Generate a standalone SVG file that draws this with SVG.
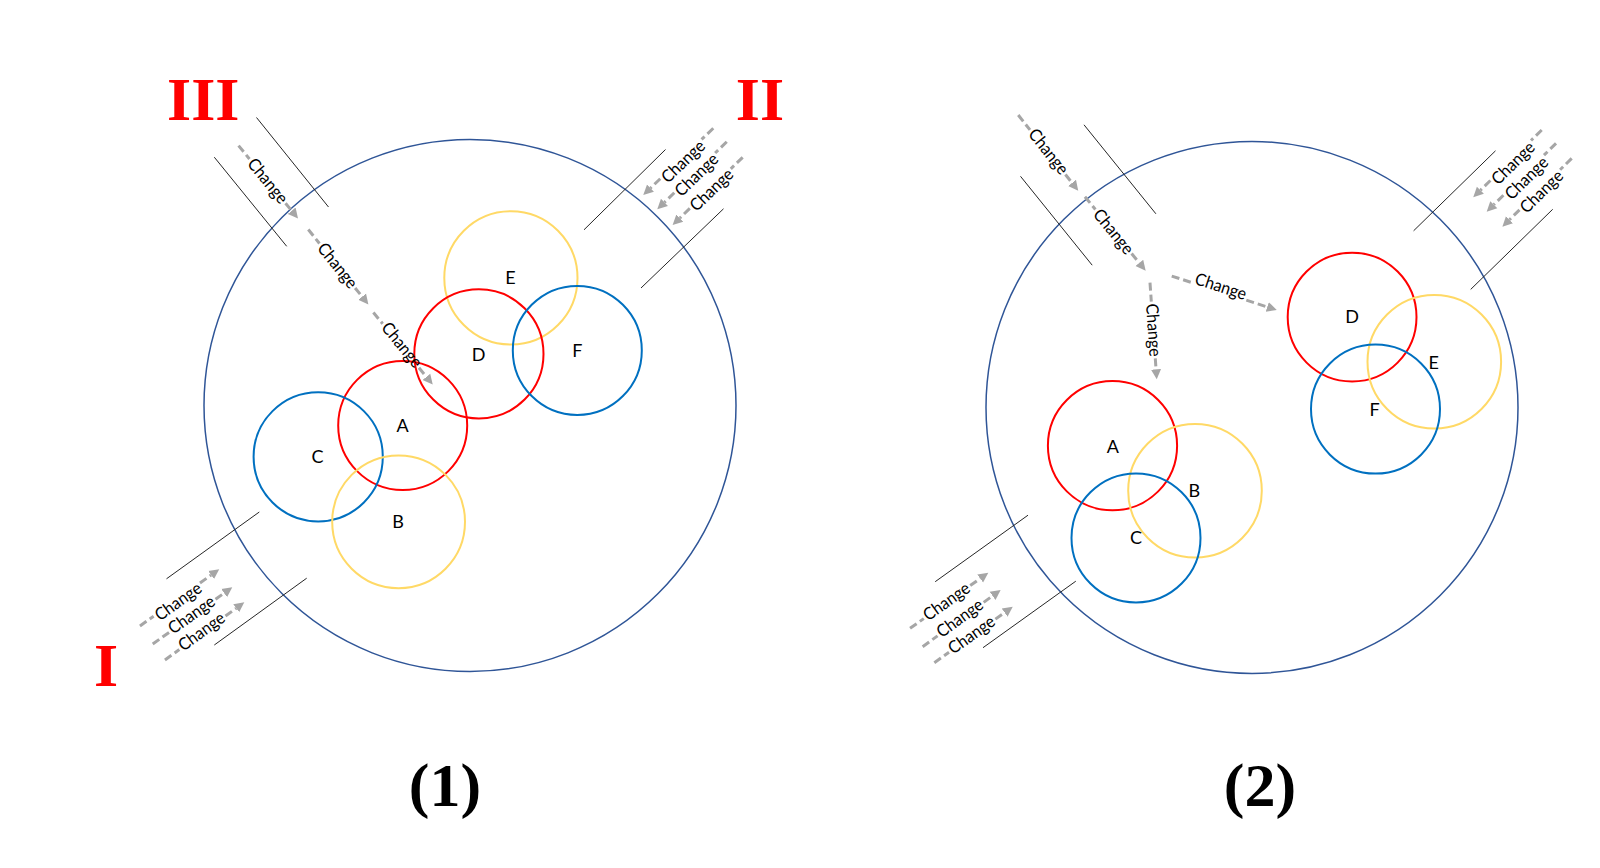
<svg xmlns="http://www.w3.org/2000/svg" width="1600" height="868" viewBox="0 0 1600 868">
<defs>
<style>
.big{fill:none;stroke:#2F5597;stroke-width:1.5}
.red{fill:none;stroke:#FF0000;stroke-width:2}
.blue{fill:none;stroke:#0070C0;stroke-width:2}
.yel{fill:none;stroke:#FFD966;stroke-width:2}
.wall{stroke:#262626;stroke-width:1}
.arr path{fill:none;stroke:#A6A6A6;stroke-width:3;stroke-dasharray:8 4}
.chg{font-family:Lato,"Liberation Sans",sans-serif;font-size:17px;fill:#000;text-anchor:middle}
.lbl{font-family:Lato,"Liberation Sans",sans-serif;font-size:18px;fill:#000;text-anchor:middle}
.roman{font-family:"Liberation Serif",serif;font-weight:bold;font-size:62px;fill:#FF0000;text-anchor:middle}
.cap{font-family:"Liberation Serif",serif;font-weight:bold;font-size:62px;fill:#000;text-anchor:middle}
</style>
<marker id="ah" markerUnits="userSpaceOnUse" markerWidth="11" markerHeight="12" viewBox="0 -6 11 12" refX="0" refY="0" orient="auto"><path d="M0,-5 L10,0 L0,5 z" fill="#A6A6A6"/></marker>
</defs>
<rect width="1600" height="868" fill="#fff"/>

<g id="panel1">
<circle id="p1-boundary" class="big" cx="470" cy="405.5" r="266"/>
<g id="p1-E"><circle class="yel" cx="510.9" cy="277.9" r="66.6"/><text class="lbl" x="510.5" y="284.3">E</text></g>
<g id="p1-D"><circle class="red" cx="478.9" cy="353.9" r="64.6"/><text class="lbl" x="478.5" y="360.8">D</text></g>
<g id="p1-F"><circle class="blue" cx="577.3" cy="350.4" r="64.5"/><text class="lbl" x="577.3" y="356.8">F</text></g>
<g id="p1-A"><circle class="red" cx="402.7" cy="425.5" r="64.5"/><text class="lbl" x="402.5" y="432.4">A</text></g>
<g id="p1-C"><circle class="blue" cx="318.2" cy="456.8" r="64.6"/><text class="lbl" x="317.6" y="463">C</text></g>
<g id="p1-B"><circle class="yel" cx="398.6" cy="521.8" r="66.4"/><text class="lbl" x="398" y="528.3">B</text></g>
</g>

<g id="panel2">
<circle id="p2-boundary" class="big" cx="1252" cy="407.4" r="266"/>
<g id="p2-A"><circle class="red" cx="1112.5" cy="445.7" r="64.6"/><text class="lbl" x="1112.9" y="452.5">A</text></g>
<g id="p2-B"><circle class="yel" cx="1195" cy="490.7" r="66.8"/><text class="lbl" x="1194.3" y="497.2">B</text></g>
<g id="p2-C"><circle class="blue" cx="1136" cy="537.9" r="64.5"/><text class="lbl" x="1136" y="544.4">C</text></g>
<g id="p2-D"><circle class="red" cx="1352.1" cy="317.1" r="64.4"/><text class="lbl" x="1352" y="323.4">D</text></g>
<g id="p2-E"><circle class="yel" cx="1434.3" cy="361.8" r="66.8"/><text class="lbl" x="1433.6" y="368.6">E</text></g>
<g id="p2-F"><circle class="blue" cx="1375.5" cy="409.1" r="64.5"/><text class="lbl" x="1374.6" y="415.8">F</text></g>
</g>

<g id="connectors">
<g id="walls">
<line class="wall" x1="256.5" y1="117.5" x2="328.5" y2="207"/>
<line class="wall" x1="214.3" y1="157.2" x2="286.7" y2="246.3"/>
<line class="wall" x1="584" y1="229.8" x2="665.5" y2="149.5"/>
<line class="wall" x1="641" y1="288" x2="723.5" y2="208.8"/>
<line class="wall" x1="166.5" y1="578.8" x2="259.3" y2="512"/>
<line class="wall" x1="214.3" y1="645" x2="306.7" y2="578.2"/>
<line class="wall" x1="1084" y1="124.8" x2="1155.9" y2="213.8"/>
<line class="wall" x1="1020.5" y1="176.3" x2="1092.2" y2="265.2"/>
<line class="wall" x1="1413.6" y1="230.8" x2="1495.5" y2="150.8"/>
<line class="wall" x1="1470.7" y1="289.4" x2="1552.7" y2="209.3"/>
<line class="wall" x1="935.2" y1="581.7" x2="1028" y2="515.2"/>
<line class="wall" x1="983" y1="647.7" x2="1075.8" y2="581.2"/>
</g>
<g id="arrows">
<g class="arr" transform="translate(267.5 181.1) rotate(50.8)"><path d="M-45.8 0H-28.5M28.5 0H38.3" marker-end="url(#ah)"/></g>
<g class="arr" transform="translate(337.3 265.7) rotate(51.3)"><path d="M-46.4 0H-28.5M28.5 0H39.7" marker-end="url(#ah)"/></g>
<g class="arr" transform="translate(400.8 345.8) rotate(50.5)"><path d="M-43.1 0H-28.5M28.5 0H40.2" marker-end="url(#ah)"/></g>
<g class="arr" transform="translate(680.9 159.1) rotate(-43.6)"><path d="M44.7 0H28.5M-28.5 0H-42" marker-end="url(#ah)"/></g>
<g class="arr" transform="translate(694.7 172.9) rotate(-44.2)"><path d="M44.7 0H28.5M-28.5 0H-42.2" marker-end="url(#ah)"/></g>
<g class="arr" transform="translate(710.3 188.6) rotate(-44)"><path d="M45 0H28.5M-28.5 0H-42.4" marker-end="url(#ah)"/></g>
<g class="arr" transform="translate(176.8 599.6) rotate(-35.6)"><path d="M-45.3 0H-28.5M28.5 0H42.2" marker-end="url(#ah)"/></g>
<g class="arr" transform="translate(192.3 615.8) rotate(-35.5)"><path d="M-48.6 0H-28.5M28.5 0H39.1" marker-end="url(#ah)"/></g>
<g class="arr" transform="translate(202.4 632.8) rotate(-36)"><path d="M-46.3 0H-28.5M28.5 0H41.8" marker-end="url(#ah)"/></g>
<g class="arr" transform="translate(1047.7 152.2) rotate(51.6)"><path d="M-47.4 0H-28.5M28.5 0H39.2" marker-end="url(#ah)"/></g>
<g class="arr" transform="translate(1113.5 231.5) rotate(50.6)"><path d="M-45 0H-28.5M28.5 0H40.7" marker-end="url(#ah)"/></g>
<g class="arr" transform="translate(1219.2 291.4) rotate(17.9)"><path d="M-49.9 0H-28.5M28.5 0H50.5" marker-end="url(#ah)"/></g>
<g class="arr" transform="translate(1153.3 330) rotate(86)"><path d="M-47.4 0H-28.5M28.5 0H39.4" marker-end="url(#ah)"/></g>
<g class="arr" transform="translate(1510.7 160.5) rotate(-44.5)"><path d="M43.5 0H28.5M-28.5 0H-42.5" marker-end="url(#ah)"/></g>
<g class="arr" transform="translate(1523.7 175.2) rotate(-44.6)"><path d="M45.4 0H28.5M-28.5 0H-42" marker-end="url(#ah)"/></g>
<g class="arr" transform="translate(1539.8 189.8) rotate(-44.6)"><path d="M44.8 0H28.5M-28.5 0H-42.6" marker-end="url(#ah)"/></g>
<g class="arr" transform="translate(947 602.1) rotate(-35.4)"><path d="M-45.3 0H-28.5M28.5 0H40.7" marker-end="url(#ah)"/></g>
<g class="arr" transform="translate(960.6 619.1) rotate(-36)"><path d="M-46.9 0H-28.5M28.5 0H39.5" marker-end="url(#ah)"/></g>
<g class="arr" transform="translate(972.2 635.7) rotate(-35.5)"><path d="M-46.5 0H-28.5M28.5 0H39.8" marker-end="url(#ah)"/></g>
</g>
<g id="arrow-labels">
<text class="chg" transform="translate(267.5 181) rotate(50.8)" y="5.5" textLength="53" lengthAdjust="spacingAndGlyphs">Change</text>
<text class="chg" transform="translate(337.3 265.7) rotate(51.3)" y="5.5" textLength="53" lengthAdjust="spacingAndGlyphs">Change</text>
<text class="chg" transform="translate(401.7 345) rotate(50.5)" y="5.5" textLength="53" lengthAdjust="spacingAndGlyphs">Change</text>
<text class="chg" transform="translate(683.3 161.7) rotate(-43.6)" y="5.5" textLength="53" lengthAdjust="spacingAndGlyphs">Change</text>
<text class="chg" transform="translate(696.7 175) rotate(-44.2)" y="5.5" textLength="53" lengthAdjust="spacingAndGlyphs">Change</text>
<text class="chg" transform="translate(711.7 190) rotate(-44)" y="5.5" textLength="53" lengthAdjust="spacingAndGlyphs">Change</text>
<text class="chg" transform="translate(178.3 601.7) rotate(-35.6)" y="5.5" textLength="53" lengthAdjust="spacingAndGlyphs">Change</text>
<text class="chg" transform="translate(191.7 615) rotate(-35.5)" y="5.5" textLength="53" lengthAdjust="spacingAndGlyphs">Change</text>
<text class="chg" transform="translate(201.7 631.7) rotate(-36)" y="5.5" textLength="53" lengthAdjust="spacingAndGlyphs">Change</text>
<text class="chg" transform="translate(1048.3 151.7) rotate(51.6)" y="5.5" textLength="53" lengthAdjust="spacingAndGlyphs">Change</text>
<text class="chg" transform="translate(1113.3 231.7) rotate(50.6)" y="5.5" textLength="53" lengthAdjust="spacingAndGlyphs">Change</text>
<text class="chg" transform="translate(1220.7 286.7) rotate(17.9)" y="5.5" textLength="53" lengthAdjust="spacingAndGlyphs">Change</text>
<text class="chg" transform="translate(1153.3 330) rotate(86)" y="5.5" textLength="53" lengthAdjust="spacingAndGlyphs">Change</text>
<text class="chg" transform="translate(1513.3 163.3) rotate(-44.5)" y="5.5" textLength="53" lengthAdjust="spacingAndGlyphs">Change</text>
<text class="chg" transform="translate(1526.7 178.3) rotate(-44.6)" y="5.5" textLength="53" lengthAdjust="spacingAndGlyphs">Change</text>
<text class="chg" transform="translate(1541.7 191.7) rotate(-44.6)" y="5.5" textLength="53" lengthAdjust="spacingAndGlyphs">Change</text>
<text class="chg" transform="translate(946.7 601.7) rotate(-35.4)" y="5.5" textLength="53" lengthAdjust="spacingAndGlyphs">Change</text>
<text class="chg" transform="translate(960 618.3) rotate(-36)" y="5.5" textLength="53" lengthAdjust="spacingAndGlyphs">Change</text>
<text class="chg" transform="translate(971.7 635) rotate(-35.5)" y="5.5" textLength="53" lengthAdjust="spacingAndGlyphs">Change</text>
</g>
</g>

<g id="titles">
<text class="roman" x="203.3" y="120">III</text>
<text class="roman" x="760" y="119.5">II</text>
<text class="roman" x="106" y="686">I</text>
<text class="cap" x="445" y="806">(1)</text>
<text class="cap" x="1260" y="806">(2)</text>
</g>
</svg>
